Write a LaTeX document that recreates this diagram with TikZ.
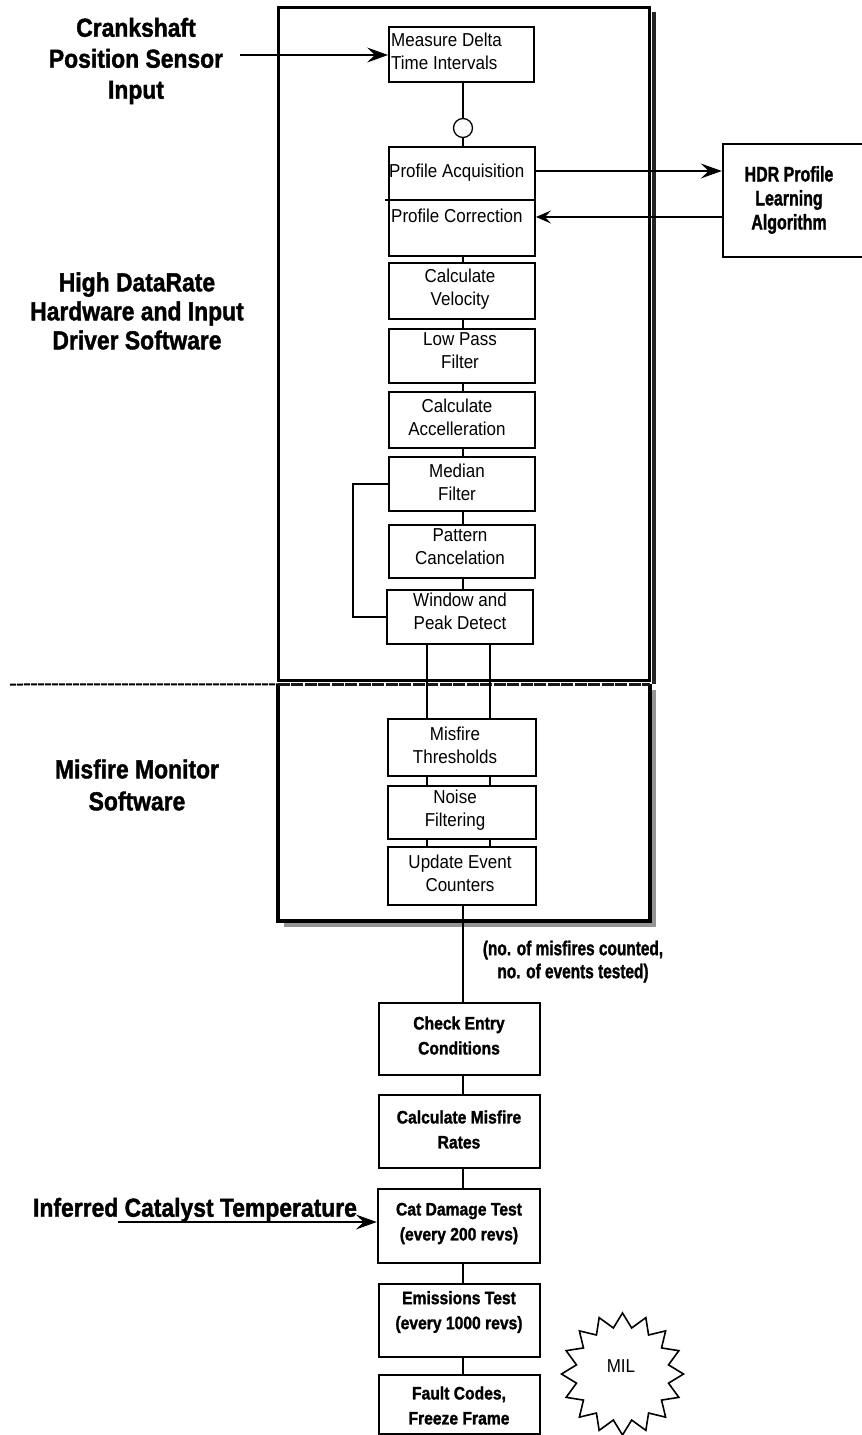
\documentclass[tikz,border=0pt]{standalone}
\usepackage{fontspec}
\setmainfont{Liberation Sans}
\newfontfamily\heavy{Liberation Sans}[UprightFont={* Bold}, FakeBold=1.6]
\usetikzlibrary{arrows.meta,shapes.geometric}
\newcommand\bcn[1]{\scalebox{0.88}[1]{#1}}
\newcommand\rln[1]{\scalebox{1}[1.1]{#1}}
\newcommand\hcn[1]{\scalebox{0.76}[1]{#1}}
\newcommand\mcn[1]{\scalebox{0.77}[1]{#1}}
\newcommand\kcn[1]{\scalebox{0.87}[1]{#1}}
\begin{document}
\begin{tikzpicture}[x=1pt,y=-1pt,
  box/.style={draw, line width=2pt, inner sep=0pt, fill=white},
  bbox/.style={draw, line width=2.5pt, inner sep=0pt, fill=white},
  btx/.style={font=\fontsize{17}{23}\selectfont, align=center, inner sep=0pt},
  lab/.style={font=\fontsize{26}{30}\selectfont\heavy, align=center, inner sep=0pt},
  bxt/.style={font=\fontsize{18}{25}\selectfont\heavy, align=center, inner sep=0pt},
  ln/.style={line width=1.6pt},
  arr/.style={line width=2.2pt, -{Stealth[length=21pt,width=15pt,inset=8pt,line width=1pt]}}
]
\useasboundingbox (0,0) rectangle (862,1435);
% coordinates for x / y levels
\coordinate (cx) at (463,0);
\coordinate (l1) at (427,0);
\coordinate (l2) at (490,0);
\coordinate (lx) at (353,0);
\coordinate (yA) at (0,171);
\coordinate (yC) at (0,217);
\coordinate (yD) at (0,200);
\coordinate (yI) at (0,1222);
\coordinate (crin) at (240,55);
\coordinate (catin) at (118,1222);
\coordinate (sepL) at (10,684.5);

% upper big box
\node[draw, line width=3pt, minimum width=371, minimum height=673, inner sep=0pt] (hdbox) at (463.5,343.5) {};
\draw[line width=4pt, black!85] ([xshift=3pt,yshift=-6pt]hdbox.north east) -- ([xshift=3pt,yshift=-2pt]hdbox.south east);

% lower box with shadow
\fill[black!42] (284,690) rectangle (656,927);
\node[fill=white, minimum width=372, minimum height=236.5, inner sep=0pt] (mmbox) at (464,802.75) {};
\draw[line width=4pt] (mmbox.north west) -- (mmbox.south west) -- (mmbox.south east) -- (mmbox.north east);
\draw[line width=2pt, dash pattern=on 6pt off 1pt] (sepL) -- (mmbox.north west);
\draw[line width=3.4pt, black!90, dash pattern=on 12pt off 1.5pt] (mmbox.north west) -- (mmbox.north east);

% upper chain boxes
\node[box, minimum width=145, minimum height=55] (meas) at (461.5,54.5) {};
\node[circle, draw, line width=1.3pt, minimum size=19, inner sep=0pt] (circ) at (463,128) {};
\node[box, minimum width=146, minimum height=109] (prof) at (462,201.5) {};
\node[box, minimum width=146, minimum height=56] (vel) at (462,291) {};
\node[box, minimum width=146, minimum height=54] (lpf) at (462,356) {};
\node[box, minimum width=146, minimum height=56] (acc) at (462,420) {};
\node[box, minimum width=146, minimum height=54] (med) at (462,484) {};
\node[box, minimum width=146, minimum height=53] (pat) at (462,551.5) {};
\node[box, minimum width=146, minimum height=54] (win) at (460,617) {};
\node[box, minimum width=148, minimum height=57] (mis) at (462,747.5) {};
\node[box, minimum width=148, minimum height=53] (noise) at (462,812.5) {};
\node[box, minimum width=148, minimum height=58] (upd) at (462,876) {};

% HDR box
\node[bbox, minimum width=143, minimum height=113] (hdr) at (794.5,200.5) {};

% lower chain boxes
\node[bbox, minimum width=161, minimum height=72] (chk) at (459.5,1039) {};
\node[bbox, minimum width=161, minimum height=73] (rate) at (459.5,1131.5) {};
\node[bbox, minimum width=162, minimum height=74] (cat) at (459,1226) {};
\node[bbox, minimum width=161, minimum height=73] (emi) at (459.5,1320.5) {};
\node[bbox, minimum width=161, minimum height=59] (flt) at (459.5,1404.5) {};

% MIL starburst
\node[star, star points=16, star point ratio=1.3, minimum size=122, draw, line width=1.6pt, inner sep=0pt] (mil) at (622.5,1374) {};

% connectors upper
\draw[ln] (meas.south -| cx) -- (circ.north);
\draw[ln] (circ.south) -- (prof.north -| cx);
\draw[ln] (prof.west |- yD) ++(-3,0) -- (prof.east |- yD);
\draw[ln] (prof.south -| cx) -- (vel.north -| cx);
\draw[ln] (vel.south -| cx) -- (lpf.north -| cx);
\draw[ln] (lpf.south -| cx) -- (acc.north -| cx);
\draw[ln] (acc.south -| cx) -- (med.north -| cx);
\draw[ln] (med.south -| cx) -- (pat.north -| cx);
\draw[ln] (pat.south -| cx) -- (win.north -| cx);
\draw[ln] (med.west) -- (med.west -| lx) |- (win.west);
\draw[ln] (win.south -| l1) -- (mis.north -| l1);
\draw[line width=1.2pt] (win.south -| l2) -- (mis.north -| l2);
\draw[ln] (mis.south -| l1) -- (noise.north -| l1);
\draw[ln] (mis.south -| l2) -- (noise.north -| l2);
\draw[ln] (noise.south -| l1) -- (upd.north -| l1);
\draw[ln] (noise.south -| l2) -- (upd.north -| l2);

% connectors lower
\draw[line width=2.2pt] (upd.south -| cx) -- (chk.north -| cx);
\draw[line width=2.2pt] (chk.south -| cx) -- (rate.north -| cx);
\draw[line width=2.2pt] (rate.south -| cx) -- (cat.north -| cx);
\draw[line width=2.2pt] (cat.south -| cx) -- (emi.north -| cx);
\draw[line width=2.2pt] (emi.south -| cx) -- (flt.north -| cx);

% arrows
\draw[arr] (crin) -- (meas.west |- crin);
\draw[arr] (prof.east |- yA) -- (hdr.west |- yA);
\draw[line width=2pt, -{Stealth[length=15pt,width=13pt,inset=6pt,line width=1pt]}] (hdr.west |- yC) -- (prof.east |- yC);
\draw[arr] (catin) -- (cat.west |- yI);

% texts in upper boxes
\node[btx, anchor=west, align=left] (tmeas) at (391,51.5) {\rln{Measure Delta}\\\rln{Time Intervals}};
\node[btx, anchor=west] (tacq) at (389,173) {\rln{Profile Acquisition}};
\node[btx, anchor=west] (tcor) at (391,216) {\rln{Profile Correction}};
\node[btx] (tvel) at (460,289) {\rln{Calculate}\\\rln{Velocity}};
\node[btx] (tlpf) at (460,350.5) {\rln{Low Pass}\\\rln{Filter}};
\node[btx] (tacc) at (457,417) {\rln{Calculate}\\\rln{Accelleration}};
\node[btx] (tmed) at (457,482.5) {\rln{Median}\\\rln{Filter}};
\node[btx] (tpat) at (460,547) {\rln{Pattern}\\\rln{Cancelation}};
\node[btx] (twin) at (460,611.5) {\rln{Window and}\\\rln{Peak Detect}};
\node[btx] (tmis) at (455,745.5) {\rln{Misfire}\\\rln{Thresholds}};
\node[btx] (tnoise) at (455,810) {\rln{Noise}\\\rln{Filtering}};
\node[btx] (tupd) at (460,873.5) {\rln{Update Event}\\\rln{Counters}};

% bold labels
\node[lab, font=\fontsize{26}{31}\selectfont\heavy] (tcrank) at (136,61) {\bcn{Crankshaft}\\\bcn{Position Sensor}\\\bcn{Input}};
\node[lab, font=\fontsize{26}{29}\selectfont\heavy] (thdsw) at (137,311) {\bcn{High DataRate}\\\bcn{Hardware and Input}\\\bcn{Driver Software}};
\node[lab, font=\fontsize{26}{32}\selectfont\heavy] (tmms) at (137,785) {\bcn{Misfire Monitor}\\\bcn{Software}};
\node[lab] (tinf) at (195,1210) {\bcn{Inferred Catalyst Temperature}};
\node[lab, font=\fontsize{21}{24}\selectfont\heavy] (thdr) at (789,200) {\hcn{HDR Profile}\\\hcn{Learning}\\\hcn{Algorithm}};
\node[lab, font=\fontsize{20}{23}\selectfont\heavy] (tcnt) at (573,961.5) {\mcn{(no. of misfires counted,}\\\mcn{no. of events tested)}};

% texts in lower boxes
\node[bxt] (tchk) at (459,1035.5) {\kcn{Check Entry}\\\kcn{Conditions}};
\node[bxt] (trate) at (459,1129.5) {\kcn{Calculate Misfire}\\\kcn{Rates}};
\node[bxt] (tcat) at (459,1223.5) {\kcn{Cat Damage Test}\\\kcn{(every 200 revs)}};
\node[bxt] (temi) at (459,1312) {\kcn{Emissions Test}\\\kcn{(every 1000 revs)}};
\node[bxt] (tflt) at (459,1405.5) {\kcn{Fault Codes,}\\\kcn{Freeze Frame}};
\node[btx] (tmil) at (621,1366) {\rln{MIL}};
\end{tikzpicture}
\end{document}
